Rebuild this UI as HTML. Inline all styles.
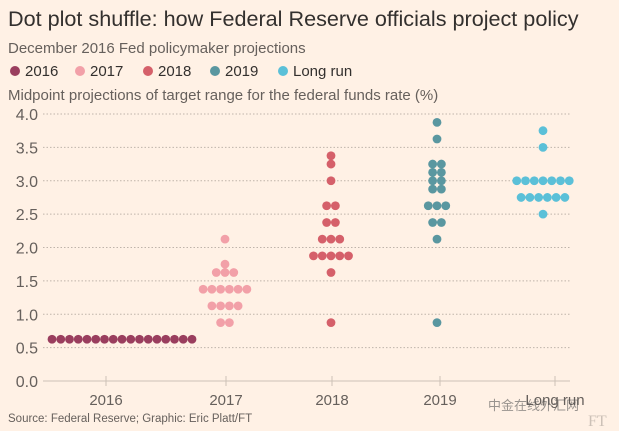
<!DOCTYPE html>
<html><head><meta charset="utf-8"><style>
body{margin:0;background:#fff1e5;font-family:"Liberation Sans","Noto Sans CJK SC",sans-serif;}
#c{position:relative;width:619px;height:431px;overflow:hidden;background:#fff1e5;}
</style></head><body>
<div id="c">
<svg id="s" width="619" height="431" xmlns="http://www.w3.org/2000/svg">
<text x="8" y="26" font-size="21.6" fill="#33302e">Dot plot shuffle: how Federal Reserve officials project policy</text>
<text x="8" y="53" font-size="15" fill="#66605c">December 2016 Fed policymaker projections</text>
<g id="legend"></g>
<text x="8" y="100" font-size="15" fill="#66605c">Midpoint projections of target range for the federal funds rate (%)</text>
<g id="grid"></g><g id="dots"></g>
<text x="8" y="422" font-size="11.5" fill="#66605c">Source: Federal Reserve; Graphic: Eric Platt/FT</text>
<text x="488" y="410" font-size="13" fill="#555" opacity="0.6">中金在线外汇网</text>
<text x="588" y="426" font-size="16" font-family="Liberation Serif,serif" fill="#ccc1b7">FT</text>
</svg>
</div>
<script>
const categories=["2016","2017","2018","2019","Long run"];
const colors=["#9a3e5e","#f2a0a8","#d5606a","#5a97a0","#5bc0d8"];
const yTicks=[0,0.5,1,1.5,2,2.5,3,3.5,4];
const v2016=[[0.625,17]];
const v2017=[[2.125,1],[1.75,1],[1.625,3],[1.375,6],[1.125,4],[0.875,2]];
const v2018=[[3.375,1],[3.25,1],[3.0,1],[2.625,2],[2.375,2],[2.125,3],[1.875,5],[1.625,1],[0.875,1]];
const v2019=[[3.875,1],[3.625,1],[3.25,2],[3.125,2],[3.0,2],[2.875,2],[2.625,3],[2.375,2],[2.125,1],[0.875,1]];
const vLong=[[3.75,1],[3.5,1],[3.0,7],[2.75,6],[2.5,1]];
const series=[v2016,v2017,v2018,v2019,vLong];
const NS="http://www.w3.org/2000/svg";
const y=v=>381-v*66.75;
const dotCenter=[122,225,331,437,543];
const tickX=[106,226,332,440,555];
const g=document.getElementById('grid'),d=document.getElementById('dots'),lg=document.getElementById('legend');
function mk(t,a,p){const e=document.createElementNS(NS,t);for(const k in a)e.setAttribute(k,a[k]);p.appendChild(e);return e;}
yTicks.forEach(t=>{
 if(t>0){const l=mk('line',{x1:43,x2:570,y1:y(t),y2:y(t),stroke:'#bfb4aa','stroke-dasharray':'1.5 2','stroke-width':1},g);
 
 }
 const tx=mk('text',{x:38,y:y(t)+6,'font-size':16,fill:'#66605c','text-anchor':'end'},g);tx.textContent=t.toFixed(1);
 
 
});
const base=mk('line',{x1:43,x2:570,y1:381,y2:381,stroke:'#ccc1b7','stroke-width':1},g);


categories.forEach((c,i)=>{
 mk('line',{x1:tickX[i],x2:tickX[i],y1:376,y2:386,stroke:'#ccc1b7'},g);
 const t=mk('text',{x:tickX[i],y:405,'font-size':15,fill:'#66605c','text-anchor':'middle'},g);t.textContent=c;
 
 
 series[i].forEach(([v,n])=>{for(let k=0;k<n;k++){
  const cx=dotCenter[i]+(k-(n-1)/2)*8.75;
  const ci=mk('circle',{cx:cx,cy:y(v),r:4.4,fill:colors[i]},d);
  
  
 }});
});
const lx=[15,80,148,215,283];
categories.forEach((c,i)=>{
 mk('circle',{cx:lx[i],cy:71,r:5,fill:colors[i]},lg);
 const t=mk('text',{x:lx[i]+10,y:76,'font-size':15,fill:'#33302e'},lg);t.textContent=c;
 
 
});
</script>
</body></html>
